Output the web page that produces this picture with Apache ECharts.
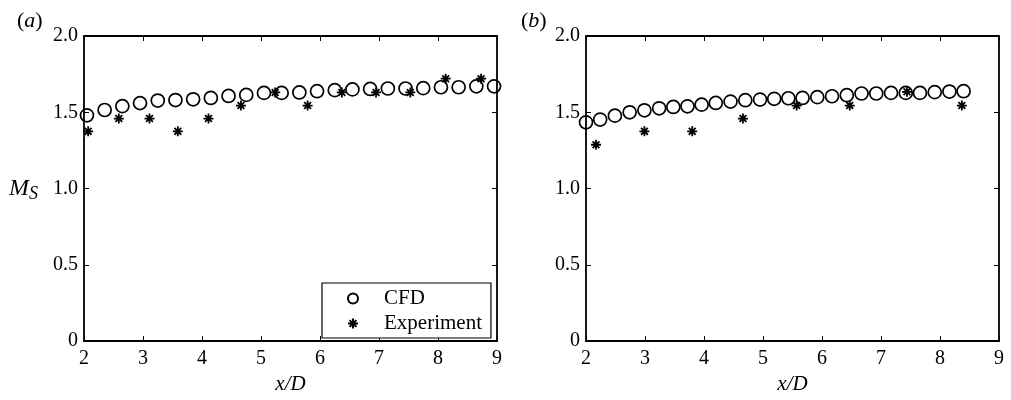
<!DOCTYPE html>
<html>
<head>
<meta charset="utf-8">
<script src="https://cdn.jsdelivr.net/npm/echarts@6/dist/echarts.min.js"></script>
<style>html,body{margin:0;padding:0;background:#fff}#c{width:1011px;height:400px}</style>
</head>
<body>
<div id="c"></div>
<script>
// Panel (a)
const cfdA_x = [2.05, 2.35, 2.65, 2.95, 3.25, 3.55, 3.85, 4.15, 4.45, 4.75, 5.05, 5.35, 5.65, 5.95, 6.25, 6.55, 6.85, 7.15, 7.45, 7.75, 8.05, 8.35, 8.65, 8.95];
const cfdA_y = [1.48, 1.515, 1.54, 1.56, 1.577, 1.58, 1.585, 1.594, 1.607, 1.614, 1.627, 1.627, 1.63, 1.638, 1.645, 1.65, 1.653, 1.656, 1.656, 1.658, 1.664, 1.664, 1.67, 1.67];
const expA_x = [2.07, 2.59, 3.11, 3.59, 4.11, 4.66, 5.24, 5.79, 6.37, 6.95, 7.53, 8.13, 8.73];
const expA_y = [1.375, 1.459, 1.459, 1.375, 1.459, 1.544, 1.63, 1.544, 1.63, 1.63, 1.63, 1.72, 1.72];
// Panel (b)
const cfdB_x = [2.0, 2.24, 2.49, 2.74, 2.99, 3.24, 3.48, 3.72, 3.96, 4.2, 4.45, 4.7, 4.95, 5.19, 5.43, 5.67, 5.92, 6.17, 6.42, 6.67, 6.92, 7.17, 7.42, 7.66, 7.91, 8.16, 8.4];
const cfdB_y = [1.434, 1.452, 1.478, 1.5, 1.513, 1.526, 1.535, 1.539, 1.55, 1.561, 1.57, 1.579, 1.583, 1.588, 1.592, 1.594, 1.599, 1.605, 1.612, 1.623, 1.623, 1.627, 1.627, 1.627, 1.632, 1.636, 1.638];
const expB_x = [2.17, 2.99, 3.8, 4.66, 5.57, 6.47, 7.44, 8.37];
const expB_y = [1.287, 1.375, 1.375, 1.459, 1.544, 1.544, 1.634, 1.544];
// Tick labels
const xTickLabels = ['2', '3', '4', '5', '6', '7', '8', '9'];
const yTickLabels = ['0', '0.5', '1.0', '1.5', '2.0'];
const seriesNames = ['CFD', 'Experiment'];
const panelLabels = ['a', 'b'];

const FONT = 'Liberation Serif';
const zip = (xs, ys) => xs.map((x, i) => [x, ys[i]]);
const STAR = 'path://M5,0L5,10M0,5L10,5M1.6,1.6L8.4,8.4M1.6,8.4L8.4,1.6';

const chart = echarts.init(document.getElementById('c'));

function xAxes(grid) {
  const base = {
    gridIndex: grid, type: 'value', min: 2, max: 9, interval: 1,
    axisLine: {show: true, onZero: false, lineStyle: {color: '#000', width: 1.8}},
    axisTick: {show: true, inside: true, length: 5, lineStyle: {color: '#000', width: 1}},
    splitLine: {show: false}
  };
  return [
    Object.assign({}, base, {
      position: 'bottom',
      axisLabel: {show: true, margin: 8, color: '#000', fontFamily: FONT, fontSize: 20,
        formatter: v => xTickLabels[Math.round(v) - 2]},
      name: 'x/D', nameLocation: 'middle', nameGap: 29,
      nameTextStyle: {fontFamily: FONT, fontSize: 21, fontStyle: 'italic', color: '#000'}
    }),
    Object.assign({}, base, {position: 'top', axisLabel: {show: false}})
  ];
}
function yAxes(grid, withName) {
  const base = {
    gridIndex: grid, type: 'value', min: 0, max: 2, interval: 0.5,
    axisLine: {show: true, onZero: false, lineStyle: {color: '#000', width: 1.8}},
    axisTick: {show: true, inside: true, length: 5, lineStyle: {color: '#000', width: 1}},
    splitLine: {show: false}
  };
  const left = Object.assign({}, base, {
    position: 'left',
    axisLabel: {show: true, margin: 6, color: '#000', fontFamily: FONT, fontSize: 20,
      formatter: v => yTickLabels[Math.round(v * 2)]}
  });
  if (withName) {
    Object.assign(left, {
      name: '{m|M}{s|S}', nameLocation: 'middle', nameRotate: 0, nameGap: 46,
      nameTextStyle: {color: '#000', rich: {
        m: {fontFamily: FONT, fontSize: 24, fontStyle: 'italic', color: '#000'},
        s: {fontFamily: FONT, fontSize: 18, fontStyle: 'italic', color: '#000', padding: [12, 0, 0, 0]}
      }}
    });
  }
  return [left, Object.assign({}, base, {position: 'right', axisLabel: {show: false}})];
}

const circleStyle = {color: 'rgba(0,0,0,0)', borderColor: '#000', borderWidth: 1.7, opacity: 1};
const starStyle = {color: 'rgba(0,0,0,0)', borderColor: '#000', borderWidth: 1.8, opacity: 1};

function panelSeries(ax, cx, cy, ex, ey) {
  return [
    {name: seriesNames[0], type: 'scatter', xAxisIndex: ax, yAxisIndex: ax, symbol: 'circle', symbolSize: 13,
      itemStyle: circleStyle, data: zip(cx, cy), z: 3},
    {name: seriesNames[1], type: 'scatter', xAxisIndex: ax, yAxisIndex: ax, symbol: STAR, symbolSize: 10,
      itemStyle: starStyle, data: zip(ex, ey), z: 2}
  ];
}

const option = {
  animation: false,
  backgroundColor: '#fff',
  title: panelLabels.map((p, i) => ({
    text: '({i|' + p + '})', left: i === 0 ? 12 : 516, top: 5,
    textStyle: {fontFamily: FONT, fontSize: 22, fontWeight: 'normal', color: '#000',
      rich: {i: {fontFamily: FONT, fontSize: 22, fontStyle: 'italic', color: '#000'}}}
  })),
  grid: [
    {left: 84, top: 36, width: 413, height: 308},
    {left: 586, top: 36, width: 413, height: 308}
  ],
  xAxis: [...xAxes(0), ...xAxes(1)],
  yAxis: [...yAxes(0, true), ...yAxes(1, false)],
  legend: {
    data: seriesNames, orient: 'vertical', left: 322, top: 283,
    itemWidth: 52, itemHeight: 10, itemGap: 4,
    padding: [5, 9, 4, 25],
    borderColor: '#000', borderWidth: 1.2, backgroundColor: '#fff',
    textStyle: {fontFamily: FONT, fontSize: 21, color: '#000'}
  },
  series: [
    ...panelSeries(0, cfdA_x, cfdA_y, expA_x, expA_y),
    ...panelSeries(2, cfdB_x, cfdB_y, expB_x, expB_y)
  ]
};
chart.setOption(option);
</script>
</body>
</html>
